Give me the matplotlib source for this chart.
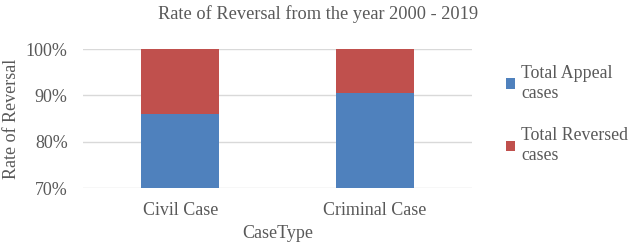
import matplotlib
matplotlib.use("Agg")
import matplotlib.pyplot as plt
import numpy as np

# data
categories = ["Civil Case", "Criminal Case"]
appeal = [86.1, 90.6]
reversed_ = [13.9, 9.4]
ticks = [70, 80, 90, 100]
tick_labels = ["70%", "80%", "90%", "100%"]

plt.rcParams['font.family'] = ['Liberation Serif', 'DejaVu Serif']
grey = '#595959'
blue = '#4F81BD'
red = '#C0504D'

W, H = 634, 249
fig = plt.figure(figsize=(W / 100, H / 100), dpi=100)
ax = fig.add_axes([83 / W, (H - 188.3) / H, 389 / W, 139.3 / H])

x = np.arange(len(categories))
ax.bar(x, appeal, width=0.4, color=blue, label="Total Appeal\ncases", zorder=3)
ax.bar(x, reversed_, bottom=appeal, width=0.4, color=red, label="Total Reversed\ncases", zorder=3)

ax.set_xlim(-0.5, 1.5)
ax.set_ylim(70, 100)
ax.set_yticks(ticks)
ax.set_yticklabels(tick_labels)
ax.set_xticks(x)
ax.set_xticklabels(categories)
ax.grid(axis='y', color='#D9D9D9', linewidth=1, zorder=0)
for s in ax.spines.values():
    s.set_visible(False)
ax.tick_params(length=0, labelsize=13, colors=grey)
ax.tick_params(axis='y', pad=11)
ax.tick_params(axis='x', pad=10)

ax.set_ylabel("Rate of Reversal", fontsize=13, color=grey, labelpad=4)
ax.set_xlabel("CaseType", fontsize=13, color=grey, labelpad=4)
fig.text(318 / W, 1 - 14 / H, "Rate of Reversal from the year 2000 - 2019",
         ha='center', va='center', fontsize=13.2, color=grey)

leg = fig.legend(loc='upper left', bbox_to_anchor=(490 / W, 1 - 49 / H),
                 frameon=False, prop={'family': 'Liberation Serif', 'size': 12.8},
                 handlelength=0.5, handleheight=0.5,
                 handletextpad=0.35, labelspacing=1.45, labelcolor=grey)

fig.savefig("out.png", dpi=100)
